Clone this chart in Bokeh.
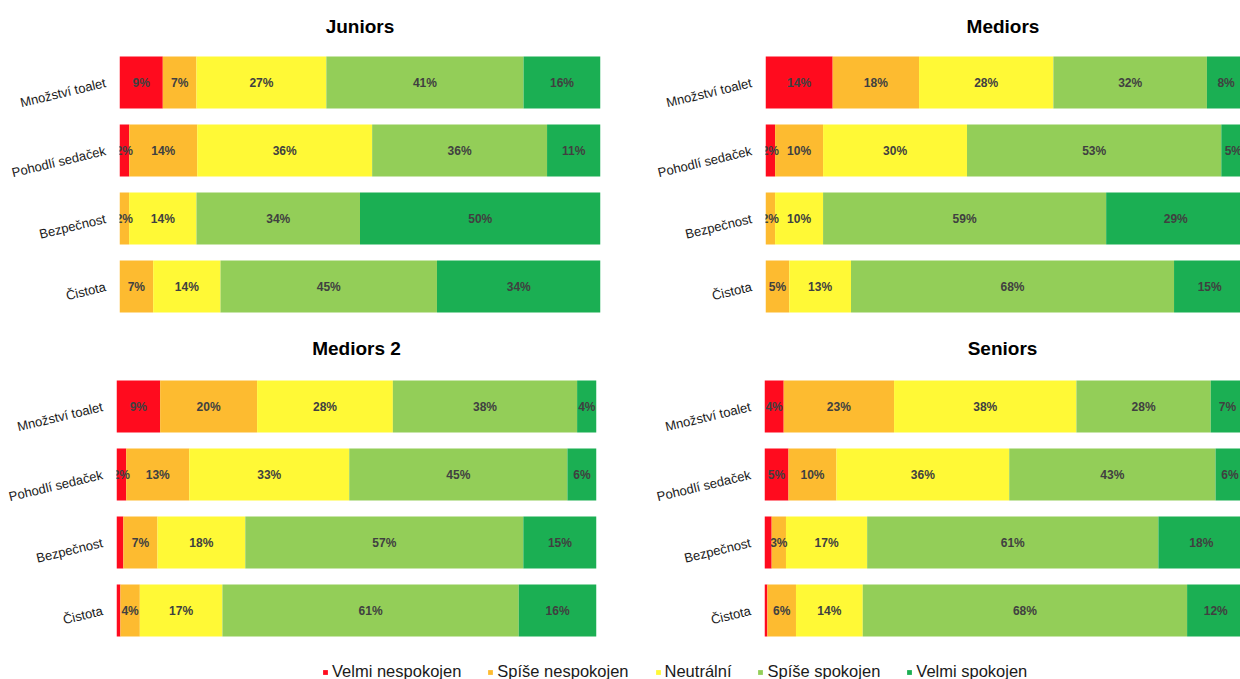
import math

from bokeh.core.properties import value
from bokeh.embed import file_html
from bokeh.layouts import column, row
from bokeh.models import ColumnDataSource, FactorRange, Legend, LegendItem, Range1d
from bokeh.plotting import figure
from bokeh.resources import INLINE

# Survey: satisfaction with toilets, by seniority group (shares in %)
aspects = ["Množství toalet", "Pohodlí sedaček", "Bezpečnost", "Čistota"]
levels = ["Velmi nespokojen", "Spíše nespokojen", "Neutrální", "Spíše spokojen", "Velmi spokojen"]
colors = ["#FF0B1E", "#FDBB30", "#FFF936", "#93CE58", "#1BAF53"]

# one row per aspect, one value per satisfaction level
juniors = [
    [9, 7, 27, 41, 16],
    [2, 14, 36, 36, 11],
    [0, 2, 14, 34, 50],
    [0, 7, 14, 45, 34],
]
mediors = [
    [14, 18, 28, 32, 8],
    [2, 10, 30, 53, 5],
    [0, 2, 10, 59, 29],
    [0, 5, 13, 68, 15],
]
mediors_2 = [
    [9, 20, 28, 38, 4],
    [2, 13, 33, 45, 6],
    [1.4, 7, 18, 57, 15],
    [0.8, 4, 17, 61, 16],
]
seniors = [
    [4, 23, 38, 28, 7],
    [5, 10, 36, 43, 6],
    [1.5, 3, 17, 61, 18],
    [0.6, 6, 14, 68, 12],
]

FONT = "Liberation Sans"
BAR_HEIGHT = 0.765


def panel(title, rows, height, border_left, border_right, border_top, border_bottom,
          title_standoff, x_end):
    p = figure(
        width=620, height=height,
        y_range=FactorRange(*reversed(aspects)),
        x_range=Range1d(0, x_end),
        output_backend="svg", toolbar_location=None,
        min_border_left=border_left, min_border_right=border_right,
        min_border_top=border_top, min_border_bottom=border_bottom,
        title=title,
    )
    # 100 % stacked bars: every aspect is scaled by its own total
    keys = [f"l{i}" for i in range(len(levels))]
    data = {"cat": list(aspects)}
    for i, k in enumerate(keys):
        data[k] = [r[i] / sum(r) * 100 for r in rows]
    p.hbar_stack(keys, y="cat", height=BAR_HEIGHT, color=colors,
                 line_color=None, source=ColumnDataSource(data))

    # segment labels, centred in each segment
    cx, cy, txt = [], [], []
    for cat, r in zip(aspects, rows):
        total = sum(r)
        left = 0.0
        for v in r:
            share = v / total * 100
            if v >= 2:
                cx.append(left + share / 2)
                cy.append(cat)
                txt.append(f"{round(v)}%")
            left += share
    p.text(x="x", y="y", text="t",
           source=ColumnDataSource(dict(x=cx, y=cy, t=txt)),
           text_align="center", text_baseline="middle",
           text_font=value(FONT), text_font_style="bold",
           text_font_size="12px", text_color="#404040")

    p.title.align = "center"
    p.title.text_font = FONT
    p.title.text_font_size = "19px"
    p.title.text_font_style = "bold"
    p.title.text_color = "#000000"
    p.title.standoff = title_standoff

    p.xaxis.visible = False
    p.grid.visible = False
    p.outline_line_color = None
    p.yaxis.axis_line_color = None
    p.yaxis.major_tick_line_color = None
    p.yaxis.minor_tick_line_color = None
    p.yaxis.major_label_orientation = math.radians(13.5)
    p.yaxis.major_label_standoff = 8
    p.yaxis.major_label_text_font = FONT
    p.yaxis.major_label_text_font_size = "13px"
    p.yaxis.major_label_text_color = "#1a1a1a"
    p.background_fill_color = "white"
    p.border_fill_color = "white"
    return p


p1 = panel("Juniors", juniors, 320, 119, 20, 48, 0, 24, 100)
p2 = panel("Mediors", mediors, 320, 145, 0, 48, 0, 24, 99)
p3 = panel("Mediors 2", mediors_2, 340, 116, 24, 52, 16, 28, 100)
p4 = panel("Seniors", seniors, 340, 144, 0, 52, 16, 28, 99.2)

# shared legend strip under the panels
pl = figure(width=1240, height=19, output_backend="svg", toolbar_location=None,
            x_range=Range1d(0, 1), y_range=Range1d(0, 1),
            min_border_left=0, min_border_right=0, min_border_top=0, min_border_bottom=0)
pl.xaxis.visible = False
pl.yaxis.visible = False
pl.grid.visible = False
pl.outline_line_color = None
items = []
for name, c in zip(levels, colors):
    # zero-width bar: only its legend swatch is visible
    r = pl.hbar(y=[0.5], left=[0], right=[0], height=1, color=c, line_color=None)
    items.append(LegendItem(label=name, renderers=[r]))
legend = Legend(items=items, orientation="horizontal", location=(322, -2),
                glyph_width=6, glyph_height=6, label_standoff=4, spacing=26,
                padding=0, margin=0, border_line_color=None,
                background_fill_alpha=0, label_height=16,
                label_text_font=FONT, label_text_font_size="16.5px",
                label_text_color="#1a1a1a")
pl.add_layout(legend, "center")

layout = column(row(p1, p2), row(p3, p4), pl)
open("out.html", "w").write(file_html(layout, INLINE))
